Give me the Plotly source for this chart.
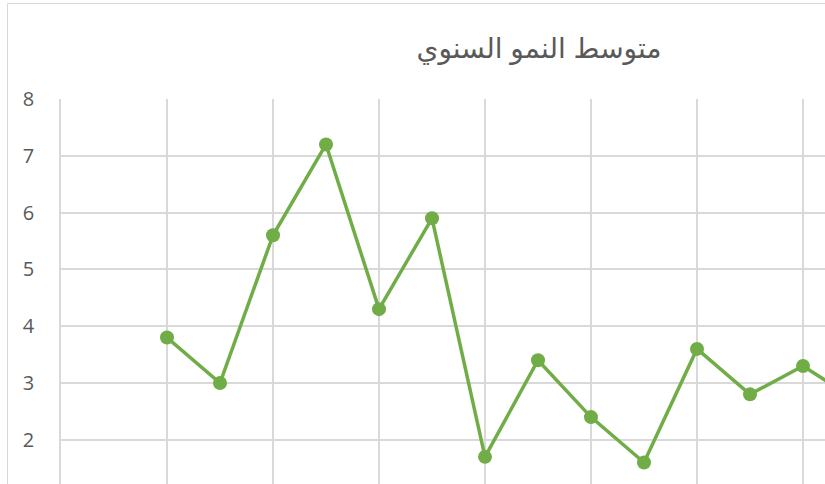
import plotly.graph_objects as go

# Data
x_index = [2, 3, 4, 5, 6, 7, 8, 9, 10, 11, 12, 13, 14, 15]
growth = [3.8, 3.0, 5.6, 7.2, 4.3, 5.9, 1.7, 3.4, 2.4, 1.6, 3.6, 2.8, 3.3, 2.7]
y_ticks = [1, 2, 3, 4, 5, 6, 7, 8]
title_text = "متوسط النمو السنوي"

W, H = 825, 484
ML, MT = 61, 99

fig = go.Figure()
fig.add_trace(go.Scatter(
    x=x_index, y=growth, mode="lines+markers",
    line=dict(color="#70AD47", width=3.5),
    marker=dict(color="#70AD47", size=14),
    cliponaxis=False, showlegend=False,
))

fig.update_layout(
    width=W, height=H,
    margin=dict(l=ML, r=0, t=MT, b=0, pad=0),
    paper_bgcolor="white", plot_bgcolor="white",
    title=dict(text=title_text, x=539 / W, xanchor="center", xref="container",
               y=1 - 48 / H, yanchor="middle", yref="container",
               font=dict(family="Arial, DejaVu Sans, sans-serif", size=28, color="#595959")),
    xaxis=dict(range=[0, (W - ML) / 53.0], tick0=0, dtick=2, showgrid=True,
               gridcolor="#d9d9d9", gridwidth=1.5, showticklabels=False, zeroline=False,
               showline=False),
    yaxis=dict(range=[8 - (H - MT) / 56.8, 8], tickvals=y_ticks, showgrid=True,
               gridcolor="#d9d9d9", gridwidth=1.5, zeroline=False,
               showline=True, linecolor="#d9d9d9", linewidth=1.5,
               ticklabelstandoff=21,
               tickfont=dict(family="Open Sans, Liberation Sans, sans-serif", size=20, color="#595959")),
    shapes=[dict(type="rect", xref="paper", yref="paper",
                 x0=(7.5 - ML) / (W - ML), x1=1.5, y0=-1, y1=1 + (MT - 3.5) / (H - MT),
                 line=dict(color="#d9d9d9", width=1), fillcolor="rgba(0,0,0,0)", layer="below")],
)

fig.write_html("out.html", config={"displayModeBar": False},
               post_script="document.body.style.margin='0';")
